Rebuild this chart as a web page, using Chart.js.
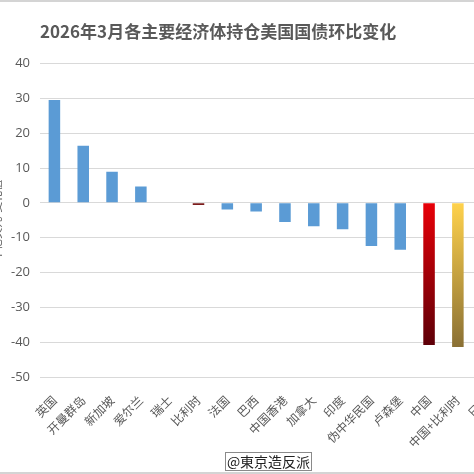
<!DOCTYPE html>
<html>
<head>
<meta charset="utf-8">
<script src="https://cdn.jsdelivr.net/npm/chart.js@4/dist/chart.umd.min.js"></script>
<style>
html, body { margin: 0; padding: 0; background: #fff; }
body { width: 474px; height: 474px; overflow: hidden; position: relative; }
#chart { position: absolute; left: -10px; top: 0; }
.edge { position: absolute; left: 0; width: 474px; height: 2px; background: #d4d4d4; }
.mark { position: absolute; left: 225px; top: 452px; width: 85px; height: 17px; border: 1px solid #8a8a8a; background: #fff;
        font: 14px "Noto Sans CJK JP", sans-serif; color: #222; line-height: 17px; text-align: center; }
</style>
</head>
<body>
<canvas id="chart" width="515" height="474"></canvas>
<div class="edge" style="top:0"></div>
<div class="edge" style="top:472px"></div>
<div class="mark">@東京造反派</div>
<script>
// 2026年3月 各经济体持仓美国国债环比变化（十亿美元）
const categories = ['英国', '开曼群岛', '新加坡', '爱尔兰', '瑞士', '比利时', '法国', '巴西', '中国香港',
    '加拿大', '印度', '伪中华民国', '卢森堡', '中国', '中国+比利时', '日本'];
const changes = [29.5, 16.4, 8.9, 4.7, 0, -0.6, -1.9, -2.5, -5.5, -6.7, -7.6, -12.4, -13.5, -40.8, -41.4,
    null]; // 日本的柱子在截图右边界之外，读不到
const yMin = -50;
const yMax = 40;
const yStep = 10;

const blue = '#5B9BD5';
const special = {
    '比利时': '#7B1C1C',
    '中国': ['#E80008', '#5E0008'],
    '中国+比利时': ['#FFD24C', '#8A7034']
};

function barColor(ctx) {
    const name = categories[ctx.dataIndex];
    const c = special[name];
    if (!c) return blue;
    if (typeof c === 'string') return c;
    const chart = ctx.chart;
    if (!chart.chartArea) return c[0];
    const y = chart.scales.y;
    const g = chart.ctx.createLinearGradient(0, y.getPixelForValue(0), 0, y.getPixelForValue(changes[ctx.dataIndex]));
    g.addColorStop(0, c[0]);
    g.addColorStop(1, c[1]);
    return g;
}

const grey = '#595959';

new Chart(document.getElementById('chart'), {
    type: 'bar',
    data: {
        labels: categories,
        datasets: [{
            data: changes,
            backgroundColor: barColor,
            borderWidth: 0,
            barPercentage: 0.4,
            categoryPercentage: 1
        }]
    },
    options: {
        responsive: false,
        animation: false,
        layout: { padding: 0 },
        plugins: {
            legend: { display: false },
            tooltip: { enabled: false },
            title: {
                display: true,
                text: '2026年3月各主要经济体持仓美国国债环比变化',
                align: 'start',
                fullSize: false,
                color: grey,
                font: { family: '"Noto Sans CJK SC", sans-serif', size: 17, weight: 'bold' },
                padding: { top: 21, bottom: 22.1 }
            }
        },
        scales: {
            x: {
                grid: { display: false },
                border: { display: false },
                ticks: {
                    color: grey,
                    minRotation: 45,
                    maxRotation: 45,
                    autoSkip: false,
                    padding: 8,
                    font: { family: '"Noto Sans CJK SC", sans-serif', size: 12 }
                },
                afterFit: s => { s.height = 97; }
            },
            y: {
                min: yMin,
                max: yMax,
                grid: { color: '#d9d9d9', drawTicks: false },
                border: { display: false },
                ticks: {
                    stepSize: yStep,
                    color: grey,
                    padding: 10,
                    font: { family: '"Open Sans", sans-serif', size: 13 }
                },
                title: {
                    display: true,
                    text: '十亿美元-变化值',
                    color: grey,
                    padding: 0,
                    font: { family: '"Noto Sans CJK SC", sans-serif', size: 11 }
                },
                afterFit: s => { s.width = 50; }
            }
        }
    }
});
</script>
</body>
</html>
